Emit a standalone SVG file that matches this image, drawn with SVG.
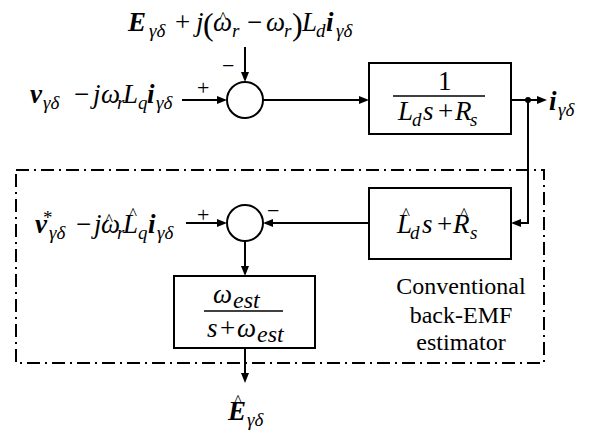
<svg xmlns="http://www.w3.org/2000/svg" width="594" height="430" viewBox="0 0 594 430" font-family="Liberation Serif">
<rect x="16" y="170" width="528" height="193" fill="none" stroke="#000" stroke-width="2" stroke-dasharray="13 5 2 5"/>
<g id="connectors" fill="none" stroke="#000" stroke-width="2">
<path d="M245,47 V73"/>
<path d="M182,100 H218"/>
<path d="M263,100 H360"/>
<path d="M511,100 H538"/>
<path d="M528,100 V223 H520"/>
<path d="M369,223 H272"/>
<path d="M186,223 H218"/>
<path d="M245,241 V267"/>
<path d="M245,348 V374"/>
<g fill="#000" stroke="none">
<circle cx="528" cy="100" r="3"/>
<polygon points="241,72 249,72 245,82"/>
<polygon points="217,96 217,104 227,100"/>
<polygon points="359,96 359,104 369,100"/>
<polygon points="537,96 537,104 547,100"/>
<polygon points="521,219 521,227 511,223"/>
<polygon points="273,219 273,227 263,223"/>
<polygon points="217,219 217,227 227,223"/>
<polygon points="241,266 249,266 245,276"/>
<polygon points="241,373 249,373 245,383"/>
</g>
</g>
<g id="label-top">
<text font-family="Liberation Serif" font-size="27" y="31"><tspan x="128" font-weight="bold" font-style="italic">E</tspan><tspan x="149" y="37" font-style="italic" font-size="19">γδ</tspan><tspan x="175" y="31">+</tspan><tspan x="196" font-style="italic">j</tspan><tspan x="203" y="35" font-size="32">(</tspan><tspan x="213" y="31" font-style="italic">ω</tspan><tspan x="232" y="37" font-style="italic" font-size="19">r</tspan><tspan x="247" y="31">−</tspan><tspan x="266" font-style="italic">ω</tspan><tspan x="284" y="37" font-style="italic" font-size="19">r</tspan><tspan x="292" y="35" font-size="32">)</tspan><tspan x="302" y="31" font-style="italic">L</tspan><tspan x="316" y="37" font-style="italic" font-size="19">d</tspan><tspan x="326" y="31" font-weight="bold" font-style="italic">i</tspan><tspan x="336" y="37" font-style="italic" font-size="19">γδ</tspan></text>
<text font-family="Liberation Serif" font-size="17" text-anchor="middle" x="223" y="22.5">^</text>
</g>
<g id="sum1">
<circle cx="245" cy="100" r="18" fill="#fff" stroke="#000" stroke-width="2"/>
<text font-family="Liberation Serif" font-size="22" x="197" y="95">+</text>
<text font-family="Liberation Serif" font-size="22" x="222" y="73">−</text>
</g>
<g id="label-in1">
<text font-family="Liberation Serif" font-size="27" y="103"><tspan x="30" font-weight="bold" font-style="italic">v</tspan><tspan x="43" y="109" font-style="italic" font-size="19">γδ</tspan><tspan x="74" y="103">−</tspan><tspan x="93" font-style="italic">j</tspan><tspan x="101" font-style="italic">ω</tspan><tspan x="117" y="109" font-style="italic" font-size="19">r</tspan><tspan x="123" y="103" font-style="italic">L</tspan><tspan x="138" y="109" font-style="italic" font-size="19">q</tspan><tspan x="147" y="103" font-weight="bold" font-style="italic">i</tspan><tspan x="156" y="109" font-style="italic" font-size="19">γδ</tspan></text>
</g>
<g id="block1">
<rect x="369" y="63" width="142" height="71" fill="#fff" stroke="#000" stroke-width="2"/>
<text font-family="Liberation Serif" font-size="27" x="438" y="90">1</text>
<line x1="393" y1="96" x2="485" y2="96" stroke="#000" stroke-width="1.5"/>
<text font-family="Liberation Serif" font-size="27" y="120"><tspan x="398" font-style="italic">L</tspan><tspan x="412" y="126" font-style="italic" font-size="19">d</tspan><tspan x="423" y="120" font-style="italic">s</tspan><tspan x="438">+</tspan><tspan x="455" font-style="italic">R</tspan><tspan x="470" y="126" font-style="italic" font-size="19">s</tspan></text>
</g>
<g id="label-out1">
<text font-family="Liberation Serif" font-size="27" y="110"><tspan x="549" font-weight="bold" font-style="italic">i</tspan><tspan x="558" y="116" font-style="italic" font-size="19">γδ</tspan></text>
</g>
<g id="block2">
<rect x="369" y="188" width="142" height="71" fill="#fff" stroke="#000" stroke-width="2"/>
<text font-family="Liberation Serif" font-size="27" y="233"><tspan x="397" font-style="italic">L</tspan><tspan x="410" y="239" font-style="italic" font-size="19">d</tspan><tspan x="422" y="233" font-style="italic">s</tspan><tspan x="437">+</tspan><tspan x="453" font-style="italic">R</tspan><tspan x="470" y="239" font-style="italic" font-size="19">s</tspan></text>
<text font-family="Liberation Serif" font-size="17" text-anchor="middle" x="406" y="218.5">^</text>
<text font-family="Liberation Serif" font-size="17" text-anchor="middle" x="464" y="218.5">^</text>
</g>
<g id="sum2">
<circle cx="245" cy="223" r="18" fill="#fff" stroke="#000" stroke-width="2"/>
<text font-family="Liberation Serif" font-size="22" x="197" y="222">+</text>
<text font-family="Liberation Serif" font-size="22" x="267" y="218">−</text>
</g>
<g id="label-in2">
<text font-family="Liberation Serif" font-size="27" y="233"><tspan x="35" font-weight="bold" font-style="italic">v</tspan><tspan x="43" y="224" font-size="19">*</tspan><tspan x="49" y="239" font-style="italic" font-size="19">γδ</tspan><tspan x="76" y="233">−</tspan><tspan x="94" font-style="italic">j</tspan><tspan x="101" font-style="italic">ω</tspan><tspan x="117" y="239" font-style="italic" font-size="19">r</tspan><tspan x="123" y="233" font-style="italic">L</tspan><tspan x="138" y="239" font-style="italic" font-size="19">q</tspan><tspan x="148" y="233" font-weight="bold" font-style="italic">i</tspan><tspan x="157" y="239" font-style="italic" font-size="19">γδ</tspan></text>
<text font-family="Liberation Serif" font-size="17" text-anchor="middle" x="109" y="224.5">^</text>
<text font-family="Liberation Serif" font-size="17" text-anchor="middle" x="133" y="218.5">^</text>
</g>
<g id="block3">
<rect x="174" y="276" width="141" height="72" fill="#fff" stroke="#000" stroke-width="2"/>
<text font-family="Liberation Serif" font-size="27" y="303"><tspan x="213" font-style="italic">ω</tspan><tspan x="233" y="308" font-style="italic" font-size="24">est</tspan></text>
<line x1="204" y1="311" x2="283" y2="311" stroke="#000" stroke-width="1.5"/>
<text font-family="Liberation Serif" font-size="27" y="337"><tspan x="207" font-style="italic">s</tspan><tspan x="220">+</tspan><tspan x="237" font-style="italic">ω</tspan><tspan x="257" y="342" font-style="italic" font-size="24">est</tspan></text>
</g>
<g id="label-out2">
<text font-family="Liberation Serif" font-size="27" y="420"><tspan x="228" font-weight="bold" font-style="italic">E</tspan><tspan x="247" y="426" font-style="italic" font-size="19">γδ</tspan></text>
<text font-family="Liberation Serif" font-size="17" text-anchor="middle" x="238" y="405.5">^</text>
</g>
<g id="caption">
<text font-family="Liberation Serif" font-size="24" text-anchor="middle" x="461" y="294">Conventional</text>
<text font-family="Liberation Serif" font-size="24" text-anchor="middle" x="461" y="323">back-EMF</text>
<text font-family="Liberation Serif" font-size="24" text-anchor="middle" x="461" y="350">estimator</text>
</g>
</svg>
